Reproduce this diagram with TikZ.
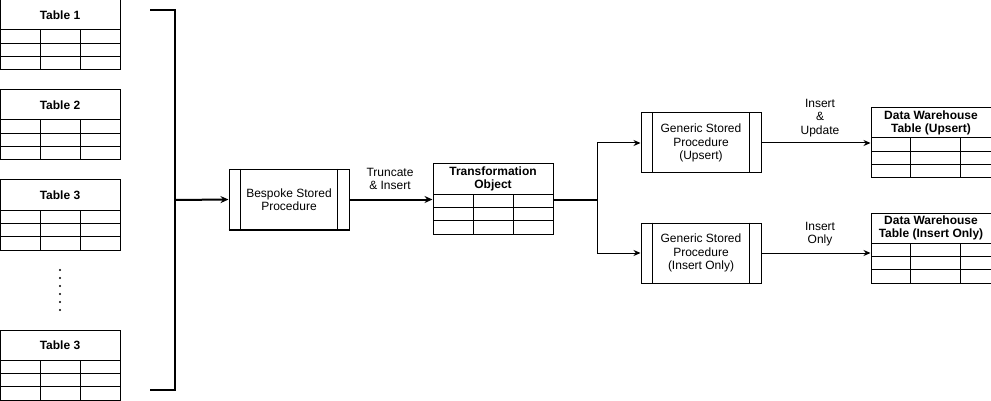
\documentclass[tikz,border=0pt]{standalone}
\usepackage{fontspec}
\setmainfont{Liberation Sans}
\usetikzlibrary{calc}
\usetikzlibrary{arrows.meta}
\tikzstyle{tablebox}=[draw,minimum width=120pt,minimum height=70pt,inner sep=0pt]
\tikzstyle{tabletitle}=[font=\fontsize{12pt}{13.5pt}\selectfont\bfseries,align=center,inner sep=0pt]
\tikzstyle{procbox}=[draw,minimum width=120pt,minimum height=60pt,align=center,inner sep=0pt]
\tikzstyle{flowlabel}=[align=center,inner sep=0pt]
\tikzstyle{feed}=[-{Stealth[length=8pt,width=7pt]},line width=2pt]
\tikzstyle{flow}=[-{Stealth[length=7pt,width=6pt]},line width=1pt]
\newcommand{\drawtable}[6]{% Syntax: {name}{left}{top}{first column}{second column}{title}
\node[tablebox] (#1) at (#2+60,#3+35) {};
\node[tabletitle] (#1-title) at (#2+60,#3+15) {#6};
\foreach \r in {30,43.33,56.67} {
  \draw (#2,#3+\r) -- (#2+120,#3+\r);
}
\draw (#2+#4,#3+30) -- (#2+#4,#3+70);
\draw (#2+#5,#3+30) -- (#2+#5,#3+70);
}
\newcommand{\drawproc}[4]{% Syntax: {name}{center x}{center y}{text}
\node[procbox] (#1) at (#2,#3) {#4};
\draw ($(#1.north west)+(12,0)$) -- ($(#1.south west)+(12,0)$);
\draw ($(#1.north east)+(-12,0)$) -- ($(#1.south east)+(-12,0)$);
}
\begin{document}
\begin{tikzpicture}[x=1pt,y=-1pt,line width=1pt,font=\fontsize{12pt}{13.5pt}\selectfont]
  \useasboundingbox (0,0) rectangle (991,401);
  % source tables
  \drawtable{tabone}{0}{0}{40}{80.67}{Table 1}
  \drawtable{tabtwo}{0}{90}{40}{80.67}{Table 2}
  \drawtable{tabthree}{0}{180}{40}{80.67}{Table 3}
  \drawtable{tablast}{0}{330}{40}{80.67}{Table 3}
  \foreach \d in {0,...,5} {
    \fill (60,270+8*\d) circle[radius=1.1pt];
  }
  % bracket collecting the tables
  \draw[line width=2pt] (150,10) -- (175,10) -- (175,390) -- (150,390);
  \coordinate (brk) at (175,200);
  \drawproc{bespoke}{289}{199.5}{Bespoke Stored\\Procedure}
  \draw[line width=2pt] (bespoke.south west) -- (bespoke.south east);
  \draw[feed] (brk) -- (bespoke.west);
  \drawtable{transobj}{433}{164}{40}{80}{Transformation\\Object}
  \draw[feed] (bespoke.east) -- (bespoke.east -| transobj.west);
  \node[flowlabel] (lbltrunc) at (390,179) {Truncate\\\& Insert};
  % split to the generic procedures
  \coordinate (split) at (597,200);
  \drawproc{genups}{701}{143}{Generic Stored\\Procedure\\(Upsert)}
  \drawproc{genins}{701}{253}{Generic Stored\\Procedure\\(Insert Only)}
  \draw[line width=1.5pt] (transobj.east |- split) -- (split);
  \draw[flow] (split) |- (genups.west);
  \draw[flow] (split) |- (genins.west);
  % data warehouse
  \drawtable{dwups}{871}{108}{39}{89}{Data Warehouse\\Table (Upsert)}
  \drawtable{dwins}{871}{213}{39}{89}{Data Warehouse\\Table (Insert Only)}
  \draw[flow] (genups.east) -- (genups.east -| dwups.west);
  \draw[flow] (genins.east) -- (genins.east -| dwins.west);
  \node[flowlabel] (lblups) at (820,118) {Insert\\\&\\Update};
  \node[flowlabel] (lblins) at (820,234) {Insert\\Only};
\end{tikzpicture}
\end{document}
